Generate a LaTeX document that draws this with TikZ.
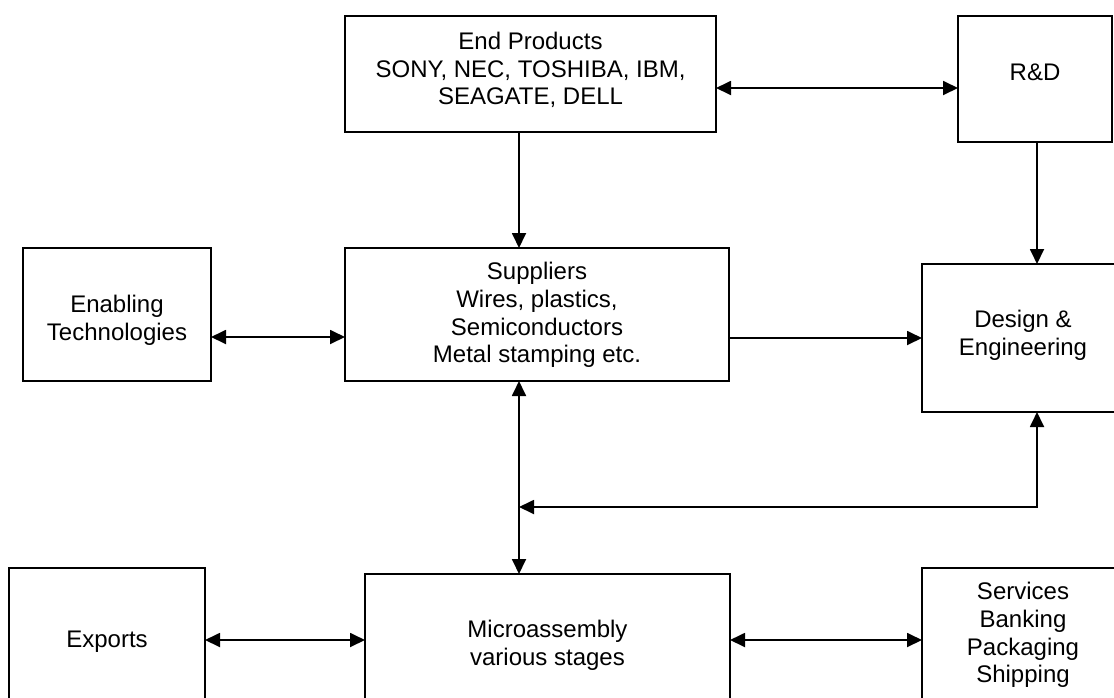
\documentclass[tikz,border=0pt]{standalone}
\usepackage{fontspec}
\setmainfont{Liberation Sans}
\usetikzlibrary{arrows.meta}
\begin{document}
\begin{tikzpicture}[x=1pt,y=-1pt,
  box/.style={draw,line width=1.8pt,inner sep=0pt,outer sep=0pt},
  txt/.style={align=center,inner sep=0pt,font=\fontsize{24}{27.6}\selectfont},
  conn/.style={line width=1.8pt},
  one/.style={conn,-{Triangle[length=15pt,width=14pt]}},
  dbl/.style={conn,{Triangle[length=15pt,width=14pt]}-{Triangle[length=15pt,width=14pt]}}]
\useasboundingbox (0,0) rectangle (1114,697);
\clip (0,0) rectangle (1114,697);
% boxes
\node[box,minimum width=371pt,minimum height=116pt] (ep) at (530.5,74) {};
\node[txt] (ept) at (530.5,70) {End Products\\SONY, NEC, TOSHIBA, IBM,\\SEAGATE, DELL};
\node[box,minimum width=154pt,minimum height=126pt] (rd) at (1035,79) {};
\node[txt] (rdt) at (1035,72) {R\&D};
\node[box,minimum width=188pt,minimum height=133pt] (en) at (117,314.5) {};
\node[txt] (ent) at (117,320) {Enabling\\Technologies};
\node[box,minimum width=384pt,minimum height=133pt] (su) at (537,314.5) {};
\node[txt] (sut) at (537,315) {Suppliers\\Wires, plastics,\\Semiconductors\\Metal stamping etc.};
\node[box,minimum width=202pt,minimum height=148pt] (de) at (1023,338) {};
\node[txt] (det) at (1023,335) {Design \&\\Engineering};
\node[box,minimum width=196pt,minimum height=148pt] (ex) at (107,642) {};
\node[txt] (ext) at (107,642) {Exports};
\node[box,minimum width=365pt,minimum height=142pt] (mi) at (547.5,645) {};
\node[txt] (mit) at (547.5,645) {Microassembly\\various stages};
\node[box,minimum width=202pt,minimum height=160pt] (sv) at (1023,648) {};
\node[txt] (svt) at (1023,635) {Services\\Banking\\Packaging\\Shipping};
% connectors
\coordinate (jn) at (519,507);
\coordinate (dc) at (1037,507);
\draw[dbl] (ep.east |- 0,88) -- (rd.west |- 0,88);
\draw[one] (ep.south -| 519,0) -- (su.north -| 519,0);
\draw[dbl] (en.east |- 0,337) -- (su.west |- 0,337);
\draw[one] (su.east |- 0,338) -- (de.west |- 0,338);
\draw[one] (rd.south -| 1037,0) -- (de.north -| 1037,0);
\draw[dbl] (su.south -| jn) -- (mi.north -| jn);
\draw[dbl] (de.south -| dc) -- (dc) -- (jn);
\draw[dbl] (ex.east |- 0,640) -- (mi.west |- 0,640);
\draw[dbl] (mi.east |- 0,640) -- (sv.west |- 0,640);
\end{tikzpicture}
\end{document}
